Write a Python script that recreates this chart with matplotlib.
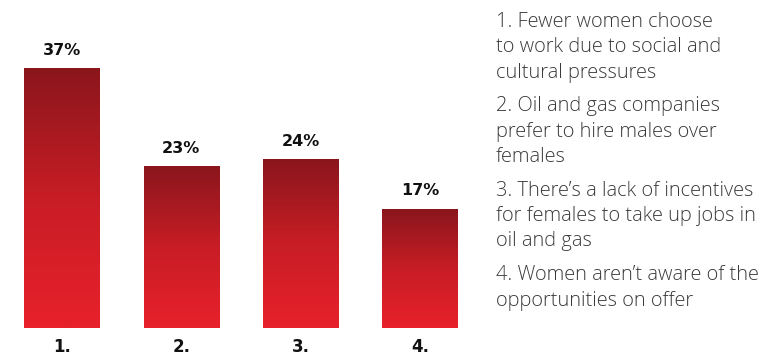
import numpy as np
import matplotlib.pyplot as plt
from matplotlib.colors import LinearSegmentedColormap

# Why are there fewer women in oil and gas? (share of respondents)
reasons = ['1.', '2.', '3.', '4.']
shares = [37, 23, 24, 17]
notes = [
    ['1. Fewer women choose', 'to work due to social and', 'cultural pressures'],
    ['2. Oil and gas companies', 'prefer to hire males over', 'females'],
    ['3. There\u2019s a lack of incentives', 'for females to take up jobs in', 'oil and gas'],
    ['4. Women aren\u2019t aware of the', 'opportunities on offer'],
]

W, H = 761, 356
fig = plt.figure(figsize=(W / 100, H / 100), dpi=100)

# bar area: bars centred at ~62px with ~119px pitch, baseline at 328px
pitch = 119.3
left = 62 - pitch / 2
ax = fig.add_axes([left / W, (H - 328) / H, 4 * pitch / W, 328 / H])
px_per_pct = 7.0
ax.set_xlim(-0.5, 3.5)
ax.set_ylim(0, 328 / px_per_pct)
ax.axis('off')

grad = LinearSegmentedColormap.from_list('redgrad', ['#e8212b', '#c81d25', '#8a161c'])
ramp = np.linspace(0, 1, 256).reshape(-1, 1)
width = 0.63

x = np.arange(len(reasons))
for xi, v, lab in zip(x, shares, reasons):
    ax.imshow(ramp, cmap=grad, origin='lower', aspect='auto',
              extent=(xi - width / 2, xi + width / 2, 0, v), zorder=2)
    ax.text(xi, v + 11 / px_per_pct, f'{v}%', ha='center', va='bottom',
            fontsize=11.5, fontweight='bold', color='#111111', family='DejaVu Sans')
    ax.text(xi, -19 / px_per_pct, lab, ha='center', va='center',
            fontsize=12, fontweight='bold', color='#111111', family='DejaVu Sans',
            clip_on=False)

# numbered explanations on the right
y = 22
for block in notes:
    for line in block:
        fig.text(496 / W, 1 - y / H, line, ha='left', va='center',
                 fontsize=14.4, color='#3a3a3a', family='Open Sans', fontweight='light')
        y += 25.3
    y += 8.5

fig.savefig('out.png', dpi=100)
